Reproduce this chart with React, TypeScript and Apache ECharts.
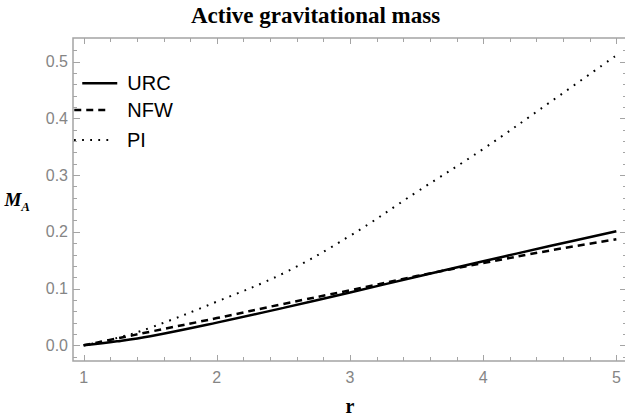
import React, { useEffect, useRef } from "react";
import * as echarts from "echarts";

// ---- data ----
const rValues = [1, 1.25, 1.5, 2, 2.5, 3, 3.5, 4, 4.5, 5];
const urcValues = [0, 0.007, 0.016, 0.04, 0.066, 0.093, 0.121, 0.148, 0.175, 0.201];
const nfwValues = [0, 0.012, 0.024, 0.048, 0.073, 0.097, 0.122, 0.145, 0.167, 0.187];
const piValues = [0, 0.013, 0.031, 0.077, 0.127, 0.193, 0.27, 0.346, 0.428, 0.511];

const xMajorTicks = [1, 2, 3, 4, 5];
const xMinorTicks = [1.2, 1.4, 1.6, 1.8, 2.2, 2.4, 2.6, 2.8, 3.2, 3.4, 3.6, 3.8, 4.2, 4.4, 4.6, 4.8];
const yMajorTicks = [0, 0.1, 0.2, 0.3, 0.4, 0.5];
const yMinorTicks = [-0.02, 0.02, 0.04, 0.06, 0.08, 0.12, 0.14, 0.16, 0.18, 0.22, 0.24, 0.26, 0.28, 0.32, 0.34, 0.36, 0.38, 0.42, 0.44, 0.46, 0.48, 0.52];

const seriesNames = ["URC", "NFW", "PI"];

const X_MIN = 0.92;
const X_MAX = 5.08;
const Y_MIN = -0.0276;
const Y_MAX = 0.5415;

const FRAME = "#a4a4a4";
const LABEL = "#858585";
const SANS = "'Liberation Sans', Arial, sans-serif";
const SERIF = "'Liberation Serif', 'Times New Roman', serif";

export default function App() {
  const ref = useRef<HTMLDivElement>(null);

  useEffect(() => {
    document.body.style.margin = "0";
    if (!ref.current) return;
    const chart = echarts.init(ref.current, null, { renderer: "svg" });

    const lineStyles = [
      { color: "#000", width: 2.5, type: "solid" },
      { color: "#000", width: 2.5, type: [7, 5] },
      { color: "#000", width: 2, type: [1.8, 6.3] },
    ];
    const allValues = [urcValues, nfwValues, piValues];

    const legendFor = (i: number, left: number, top: number, padLeft: number) => ({
      data: [seriesNames[i]],
      left,
      top,
      padding: 0,
      itemWidth: 35,
      itemHeight: 14,
      selectedMode: false,
      itemStyle: { color: "rgba(0,0,0,0)", borderColor: "rgba(0,0,0,0)", borderWidth: 0 },
      lineStyle: { ...lineStyles[i], opacity: 1 },
      textStyle: { fontFamily: SANS, fontSize: 20, lineHeight: 20, color: "#000", padding: [0, 0, 0, padLeft] },
    });

    const xTickSeries = (ticks: number[], len: number) => ({
      type: "custom",
      silent: true,
      clip: false,
      z: 5,
      encode: { x: 0, y: 1 },
      data: ticks.map((v) => [v, 0.25]),
      renderItem: (_p: any, api: any) => {
        const v = api.value(0);
        const b = api.coord([v, Y_MIN]);
        const t = api.coord([v, Y_MAX]);
        const x = Math.round(b[0]) + 0.5;
        return {
          type: "group",
          children: [
            { type: "line", shape: { x1: x, y1: b[1], x2: x, y2: b[1] - len }, style: { stroke: FRAME, lineWidth: 1 } },
            { type: "line", shape: { x1: x, y1: t[1], x2: x, y2: t[1] + len }, style: { stroke: FRAME, lineWidth: 1 } },
          ],
        };
      },
    });
    const yTickSeries = (ticks: number[], len: number) => ({
      type: "custom",
      silent: true,
      clip: false,
      z: 5,
      encode: { x: 0, y: 1 },
      data: ticks.map((v) => [3, v]),
      renderItem: (_p: any, api: any) => {
        const v = api.value(1);
        const l = api.coord([X_MIN, v]);
        const r = api.coord([X_MAX, v]);
        const y = Math.round(l[1]) + 0.5;
        return {
          type: "group",
          children: [
            { type: "line", shape: { x1: l[0], y1: y, x2: l[0] + len, y2: y }, style: { stroke: FRAME, lineWidth: 1 } },
            { type: "line", shape: { x1: r[0], y1: y, x2: r[0] - len, y2: y }, style: { stroke: FRAME, lineWidth: 1 } },
          ],
        };
      },
    });

    chart.setOption({
      animation: false,
      title: {
        text: "Active gravitational mass",
        left: 191,
        top: 4,
        padding: 0,
        textStyle: { fontFamily: SERIF, fontWeight: "bold", fontSize: 23, color: "#000" },
      },
      grid: {
        left: 73,
        top: 38,
        width: 554,
        height: 323,
        containLabel: false,
        outerBoundsMode: "none",
        show: true,
        borderColor: FRAME,
        borderWidth: 1.5,
        backgroundColor: "rgba(0,0,0,0)",
      },
      xAxis: {
        type: "value",
        min: X_MIN,
        max: X_MAX,
        axisLine: { show: false, onZero: false },
        splitLine: { show: false },
        axisTick: { show: false },
        axisLabel: {
          show: true,
          customValues: xMajorTicks,
          margin: 8,
          color: LABEL,
          fontSize: 16,
          fontFamily: SANS,
          formatter: (v: number) => String(v),
        },
        name: "r",
        nameLocation: "middle",
        nameGap: 37,
        nameTextStyle: { fontFamily: SERIF, fontWeight: "bold", fontSize: 20, lineHeight: 16, color: "#000" },
      },
      yAxis: {
        type: "value",
        min: Y_MIN,
        max: Y_MAX,
        axisLine: { show: false, onZero: false },
        splitLine: { show: false },
        axisTick: { show: false },
        axisLabel: {
          show: true,
          customValues: yMajorTicks,
          margin: 5,
          color: LABEL,
          fontSize: 16,
          fontFamily: SANS,
          formatter: (v: number) => v.toFixed(1),
        },
        name: "{m|M}{a|A}",
        nameLocation: "middle",
        nameRotate: 0,
        nameGap: 43,
        nameTextStyle: {
          rich: {
            m: { fontFamily: SERIF, fontWeight: "bold", fontStyle: "italic", fontSize: 19, lineHeight: 22, color: "#000", verticalAlign: "middle" },
            a: { fontFamily: SERIF, fontWeight: "bold", fontStyle: "italic", fontSize: 13, lineHeight: 13, color: "#000", padding: [13, 0, 0, 0], verticalAlign: "middle" },
          },
        },
      },
      legend: [legendFor(0, 81, 73.3, 5), legendFor(1, 73, 100, 13), legendFor(2, 73, 130, 13)],
      series: [
        ...seriesNames.map((name, i) => ({
          name,
          type: "line",
          symbol: "none",
          showSymbol: false,
          smooth: 0.4,
          z: 3,
          lineStyle: lineStyles[i],
          itemStyle: { color: "#000" },
          data: rValues.map((r, k) => [r, allValues[i][k]]),
        })),
        xTickSeries(xMajorTicks, 6),
        xTickSeries(xMinorTicks, 4),
        yTickSeries(yMajorTicks, 7),
        yTickSeries(yMinorTicks, 4),
      ],
    });

    return () => chart.dispose();
  }, []);

  return <div ref={ref} style={{ width: 625, height: 416 }} />;
}
